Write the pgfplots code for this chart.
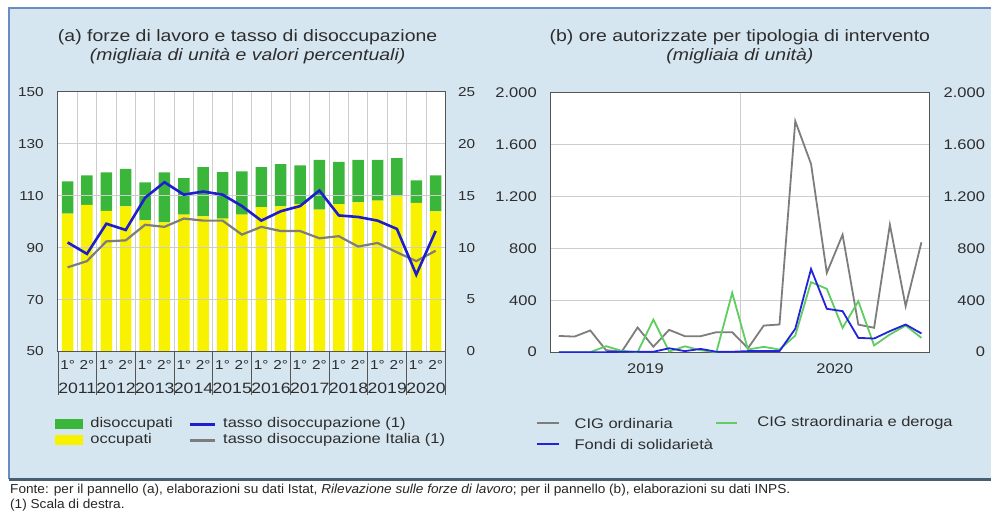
\documentclass[border=0pt]{standalone}
\usepackage{pgfplots}
\pgfplotsset{compat=1.18}
\usepackage{pgfplotstable}
\usepackage{fontspec}
\setmainfont{Liberation Sans}[FakeStretch=1.18]
\newfontfamily\footfont{Liberation Sans}[FakeStretch=1.05]
\newcommand\fs[1]{\fontsize{#1}{#1}\selectfont}
\definecolor{bgblue}{RGB}{214,230,240}
\definecolor{bordb}{RGB}{105,140,195}
\definecolor{bordd}{RGB}{70,95,115}
\definecolor{barY}{RGB}{248,242,0}
\definecolor{barG}{RGB}{58,182,58}
\definecolor{lnB}{RGB}{30,30,205}
\definecolor{lnG}{RGB}{125,125,125}
\definecolor{cigG}{RGB}{95,205,95}
\definecolor{cigB}{RGB}{35,35,220}
\definecolor{frame}{RGB}{85,85,85}
\definecolor{txt}{RGB}{45,45,45}
\definecolor{gridc}{RGB}{205,205,205}

\pgfplotstableread{
x occ dis reg it
1 103.1 12.4 10.5 8.1
2 106.5 11.3 9.4 8.7
3 104.2 14.8 12.3 10.6
4 105.9 14.4 11.7 10.7
5 100.5 14.6 14.8 12.2
6 99.7 19.3 16.3 12.0
7 102.7 14.1 15.1 12.8
8 102.0 19.0 15.4 12.6
9 101.2 17.9 15.1 12.6
10 102.7 16.7 14.0 11.25
11 105.6 15.4 12.6 12.0
12 105.9 16.3 13.5 11.6
13 106.8 14.9 14.0 11.6
14 104.6 19.2 15.5 10.9
15 106.8 16.2 13.1 11.1
16 107.4 16.4 12.95 10.1
17 108.1 15.7 12.6 10.45
18 109.7 14.8 11.8 9.55
19 107.2 8.7 7.4 8.7
20 104.0 13.8 11.6 9.7
}\datatab

\pgfplotstableread{
x ord str fon
0.5 125 0 0
1.5 120 0 0
2.5 167 0 0
3.5 15 46 0
4.5 5 10 3
5.5 190 0 3
6.5 42 251 3
7.5 172 5 30
8.5 123 45 8
9.5 123 15 25
10.5 154 0 3
11.5 154 457 3
12.5 30 20 8
13.5 205 41 8
14.5 213 20 8
15.5 1780 128 180
16.5 1450 539 641
17.5 611 488 334
18.5 905 187 316
19.5 212 392 110
20.5 188 52 105
21.5 982 136 162
22.5 354 205 213
23.5 846 110 144
}\cigtab

\begin{document}
\begin{tikzpicture}[x=1pt,y=1pt]
\fill[white] (0,0) rectangle (992,532);
\fill[bgblue] (9,52) rectangle (992,524);
\draw[bordb, line width=1.2pt] (9,52) -- (9,524) -- (992,524);
\draw[bordd, line width=3pt] (9,52) -- (992,52);

% titles
\node[text=txt, font=\fs{16.5}] at (248,495) {(a) forze di lavoro e tasso di disoccupazione};
\node[text=txt, font=\fs{16.5}\itshape] at (248,476) {(migliaia di unità e valori percentuali)};
\node[text=txt, font=\fs{16.5}] at (741,495) {(b) ore autorizzate per tipologia di intervento};
\node[text=txt, font=\fs{16.5}\itshape] at (741,476) {(migliaia di unità)};

% left panel: bars
\begin{axis}[
  at={(58pt,180pt)}, anchor=south west, scale only axis,
  width=388pt, height=260pt,
  xmin=0.5, xmax=20.5, ymin=50, ymax=150,
  ybar stacked, bar width=11.5pt,
  axis background/.style={fill=white},
  axis line style={frame, line width=1pt},
  ytick={50,70,90,110,130,150}, ymajorgrids,
  grid style={gridc, line width=0.8pt},
  xtick={1,...,20},
  xticklabels={1°,2°,1°,2°,1°,2°,1°,2°,1°,2°,1°,2°,1°,2°,1°,2°,1°,2°,1°,2°},
  minor xtick={1.5,2.5,...,19.5}, xminorgrids,
  minor grid style={gridc, line width=0.8pt},
  major tick length=0pt, minor tick length=0pt,
  tick label style={text=txt, font=\fs{13}, inner sep=0pt},
  yticklabel style={anchor=east, xshift=-14pt},
  xticklabel style={anchor=north, yshift=-9pt},
  extra x ticks={1.5,3.5,5.5,7.5,9.5,11.5,13.5,15.5,17.5,19.5},
  extra x tick labels={2011,2012,2013,2014,2015,2016,2017,2018,2019,2020},
  extra x tick style={xticklabel style={yshift=-22pt, font=\fs{15}}},
  /pgf/number format/assume math mode=true,
  axis on top,
]
\addplot[fill=barY, draw=none] table[x=x,y=occ] \datatab;
\addplot[fill=barG, draw=none] table[x=x,y=dis] \datatab;
\end{axis}

% left panel: lines (right scale)
\begin{axis}[
  at={(58pt,180pt)}, anchor=south west, scale only axis,
  width=388pt, height=260pt,
  xmin=0.5, xmax=20.5, ymin=0, ymax=25,
  axis y line*=right, axis x line=none,
  ytick={0,5,10,15,20,25},
  major tick length=0pt,
  axis line style={frame, line width=1pt},
  tick label style={text=txt, font=\fs{13}, inner sep=0pt},
  yticklabel style={anchor=east, xshift=30pt},
  /pgf/number format/assume math mode=true,
]
\addplot[lnG, line width=2.2pt] table[x=x,y=it] \datatab;
\addplot[lnB, line width=2.6pt] table[x=x,y=reg] \datatab;
\end{axis}

% year separators
\foreach \k in {0,...,10} \draw[frame, line width=0.8pt] ({58+38.8*\k},180) -- ({58+38.8*\k},136);

% left legend
\fill[barG] (55,102) rectangle (83,112);
\node[anchor=west, text=txt, font=\fs{14}] at (87,107) {disoccupati};
\fill[barY] (55,86) rectangle (83,96);
\node[anchor=west, text=txt, font=\fs{14}] at (87,91) {occupati};
\draw[lnB, line width=2.4pt] (190,107) -- (215,107);
\node[anchor=west, text=txt, font=\fs{14}] at (220,107) {tasso disoccupazione (1)};
\draw[lnG, line width=2.4pt] (190,91) -- (215,91);
\node[anchor=west, text=txt, font=\fs{14}] at (220,91) {tasso disoccupazione Italia (1)};

% right panel
\begin{axis}[
  at={(551.7pt,179.3pt)}, anchor=south west, scale only axis,
  width=379pt, height=260pt,
  xmin=0, xmax=24, ymin=0, ymax=2000,
  axis background/.style={fill=white},
  axis line style={frame, line width=1pt},
  ytick={0,400,800,1200,1600,2000}, ymajorgrids,
  grid style={gridc, line width=0.9pt},
  xtick={6,18}, xticklabels={2019,2020},
  extra x ticks={12}, extra x tick labels={},
  extra x tick style={grid=major},
  major tick length=0pt,
  tick label style={text=txt, font=\fs{14}, inner sep=0pt},
  yticklabel style={anchor=east, xshift=-14pt},
  xticklabel style={anchor=north, yshift=-11pt},
  /pgf/number format/.cd, 1000 sep={.}, assume math mode=true,
]
\addplot[lnG, line width=1.8pt] table[x=x,y=ord] \cigtab;
\addplot[cigG, line width=1.8pt] table[x=x,y=str] \cigtab;
\addplot[cigB, line width=1.8pt] table[x=x,y=fon] \cigtab;
\end{axis}
\begin{axis}[
  at={(551.7pt,179.3pt)}, anchor=south west, scale only axis,
  width=379pt, height=260pt,
  xmin=0, xmax=24, ymin=0, ymax=2000,
  axis y line*=right, axis x line=none,
  ytick={0,400,800,1200,1600,2000},
  major tick length=0pt,
  axis line style={frame, line width=1pt},
  tick label style={text=txt, font=\fs{14}, inner sep=0pt},
  yticklabel style={anchor=east, xshift=56pt},
  /pgf/number format/.cd, 1000 sep={.}, assume math mode=true,
]
\addplot[draw=none] coordinates {(0,0)};
\end{axis}

% right legend
\draw[lnG, line width=2pt] (538,108) -- (560,108);
\node[anchor=west, text=txt, font=\fs{14}] at (572,108) {CIG ordinaria};
\draw[cigG, line width=2pt] (717,108) -- (738,108);
\node[anchor=west, text=txt, font=\fs{14}] at (755,108) {CIG straordinaria e deroga};
\draw[cigB, line width=2pt] (538,87) -- (560,87);
\node[anchor=west, text=txt, font=\fs{14}] at (572,87) {Fondi di solidarietà};

% footer
\node[anchor=west, inner sep=0pt, text=black!85, font=\footfont\fs{13}] at (10,41) {Fonte: per il pannello (a), elaborazioni su dati Istat, \textit{Rilevazione sulle forze di lavoro}; per il pannello (b), elaborazioni su dati INPS.};
\node[anchor=west, inner sep=0pt, text=black!85, font=\footfont\fs{13}] at (10,26) {(1) Scala di destra.};
\end{tikzpicture}
\end{document}
